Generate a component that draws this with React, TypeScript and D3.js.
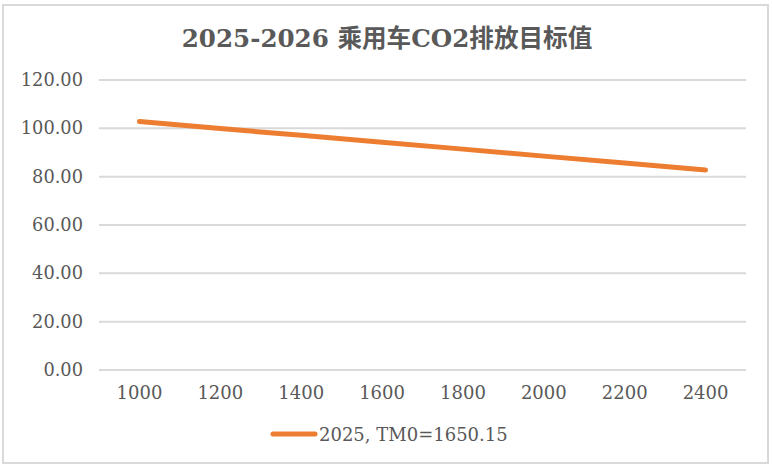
import React from "react";
import * as d3 from "d3";

const title = "2025-2026 乘用车CO2排放目标值";
const seriesName = "2025, TM0=1650.15";
const categories = ["1000", "1200", "1400", "1600", "1800", "2000", "2200", "2400"];
const values = [102.8, 99.9, 97.1, 94.2, 91.4, 88.5, 85.7, 82.8];
const yTicks = [0, 20, 40, 60, 80, 100, 120];

const W = 772;
const H = 467;
const plot = { left: 99, right: 746, top: 80, bottom: 370 };
const tickFont = "'DejaVu Serif', serif";
const textColor = "#595959";
const lineColor = "#ED7D31";

export default function App() {
  const x = d3.scaleBand<string>().domain(categories).range([plot.left, plot.right]);
  const y = d3.scaleLinear().domain([0, 120]).range([plot.bottom, plot.top]);
  const cx = (c: string) => (x(c) as number) + x.bandwidth() / 2;
  const line = d3
    .line<number>()
    .x((_, i) => cx(categories[i]))
    .y((d) => y(d));

  return (
    <svg
      width={W}
      height={H}
      style={{ position: "absolute", left: 0, top: 0, background: "#fff" }}
    >
      <rect x={0} y={0} width={W} height={H} fill="#fff" />
      <rect x={3} y={5} width={765} height={458} fill="#fff" stroke="#d9d9d9" strokeWidth={2} />
      <text
        x={387}
        y={47}
        textAnchor="middle"
        fontFamily="'DejaVu Serif', 'Noto Sans CJK SC', serif"
        fontWeight="bold"
        fontSize={24.6}
        fill={textColor}
      >
        {title}
      </text>
      {yTicks.map((t) => (
        <g key={t}>
          <line x1={plot.left} x2={plot.right} y1={y(t)} y2={y(t)} stroke="#d9d9d9" strokeWidth={2} />
          <text
            x={83}
            y={y(t) + 6}
            textAnchor="end"
            fontFamily={tickFont}
            fontSize={17.8}
            fill={textColor}
          >
            {t.toFixed(2)}
          </text>
        </g>
      ))}
      {categories.map((c) => (
        <text
          key={c}
          x={cx(c)}
          y={399}
          textAnchor="middle"
          fontFamily={tickFont}
          fontSize={18}
          fill={textColor}
        >
          {c}
        </text>
      ))}
      <path
        d={line(values) || ""}
        fill="none"
        stroke={lineColor}
        strokeWidth={5}
        strokeLinecap="round"
        strokeLinejoin="round"
      />
      <line x1={273} x2={315} y1={434} y2={434} stroke={lineColor} strokeWidth={5} strokeLinecap="round" />
      <text x={319} y={441} fontFamily={tickFont} fontSize={18} fill={textColor}>
        {seriesName}
      </text>
    </svg>
  );
}
